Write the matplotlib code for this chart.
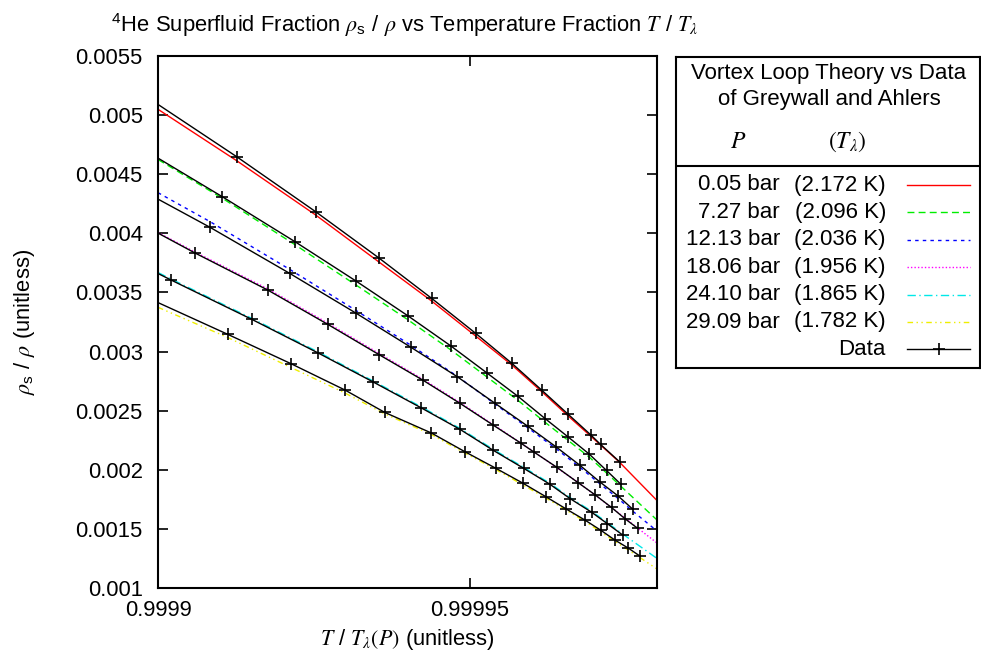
import matplotlib
matplotlib.use("Agg")
import matplotlib.pyplot as plt
from matplotlib.lines import Line2D

plt.rcParams['font.family'] = ['Liberation Sans', 'DejaVu Sans']
plt.rcParams['mathtext.fontset'] = 'stix'
FS = 15.8
plt.rcParams['font.size'] = FS

# ---------------- data ----------------
pressures = ["0.05 bar", "7.27 bar", "12.13 bar", "18.06 bar", "24.10 bar", "29.09 bar"]
tlambdas = ["(2.172 K)", "(2.096 K)", "(2.036 K)", "(1.956 K)", "(1.865 K)", "(1.782 K)"]
theory_colors = ["#ff0000", "#00ee00", "#0000ff", "#ff00ff", "#00e8e8", "#eeee00"]

# Greywall & Ahlers data (T/Tlambda, rho_s/rho)
d1_t = [0.99989, 0.99991261, 0.99992527, 0.99993542, 0.99994386, 0.99995092, 0.99995673,
        0.99996149, 0.99996576, 0.99996935, 0.99997096, 0.99997404]
d1_r = [0.005441, 0.0046484, 0.0041831, 0.0037915, 0.0034506, 0.0031545, 0.0029007,
        0.0026749, 0.0024693, 0.0022968, 0.0022139, 0.0020658]
d2_t = [0.99989, 0.99991030, 0.99992196, 0.99993178, 0.99994011, 0.99994696, 0.99995268,
        0.99995774, 0.99996210, 0.99996576, 0.99996912, 0.99997191, 0.99997425]
d2_r = [0.0049529, 0.0043100, 0.0039294, 0.0035952, 0.0033008, 0.0030471, 0.0028212,
        0.0026199, 0.0024313, 0.0022773, 0.0021335, 0.0019939, 0.0018755]
d3_t = [0.99989, 0.99990833, 0.99992109, 0.99993170, 0.99994055, 0.99994797, 0.99995401,
        0.99995934, 0.99996378, 0.99996758, 0.99997079, 0.99997377, 0.99997608]
d3_r = [0.0045756, 0.0040512, 0.0036620, 0.0033262, 0.0030361, 0.0027874, 0.0025632,
        0.0023661, 0.0021953, 0.0020405, 0.0018992, 0.0017782, 0.0016683]
d4_t = [0.99989, 0.99990593, 0.99991758, 0.99992720, 0.99993545, 0.99994242, 0.99994840,
        0.99995366, 0.99995814, 0.99996026, 0.99996394, 0.99996736, 0.99997011, 0.99997271,
        0.99997492, 0.99997689]
d4_r = [0.0042855, 0.0038338, 0.0035208, 0.0032306, 0.0029735, 0.0027595, 0.0025624,
        0.0023805, 0.0022266, 0.0021504, 0.0020210, 0.0018907, 0.0017867, 0.0016810,
        0.0015837, 0.0015050]
d5_t = [0.99989, 0.99990208, 0.99991502, 0.99992559, 0.99993450, 0.99994215, 0.99994840,
        0.99995374, 0.99995862, 0.99996277, 0.99996611, 0.99996951, 0.99997204, 0.99997449]
d5_r = [0.0039251, 0.0036054, 0.0032729, 0.0029904, 0.0027426, 0.0025252, 0.0023424,
        0.0021648, 0.0020125, 0.0018797, 0.0017545, 0.0016412, 0.0015439, 0.0014483]
d6_t = [0.99989, 0.99991117, 0.99992132, 0.99992997, 0.99993638, 0.99994383, 0.99994920,
        0.99995417, 0.99995845, 0.99996218, 0.99996539, 0.99996843, 0.99997100, 0.99997324,
        0.99997537, 0.99997725]
d6_r = [0.0036544, 0.0031460, 0.0028974, 0.0026749, 0.0024846, 0.0023111, 0.0021530,
        0.0020125, 0.0018882, 0.0017723, 0.0016700, 0.0015752, 0.0014881, 0.0014060,
        0.0013384, 0.0012707]

# Vortex loop theory curves
th1_t = [0.9999, 0.99991261, 0.99992527, 0.99993542, 0.99994386, 0.99995092, 0.99995673,
         0.99996149, 0.99996576, 0.99996935, 0.99997404, 0.99998]
th1_r = [0.0050493, 0.0046145, 0.0041552, 0.0037576, 0.0034277, 0.0031317, 0.0028864,
         0.0026622, 0.0024549, 0.0022858, 0.0020616, 0.00174]
th2_t = [0.9999, 0.99991030, 0.99992196, 0.99993178, 0.99994011, 0.99994696, 0.99995268,
         0.99995774, 0.99996210, 0.99996576, 0.99996912, 0.99997191, 0.99997425, 0.99998]
th2_r = [0.0046247, 0.0042973, 0.0039040, 0.0035614, 0.0032670, 0.0030132, 0.0027874,
         0.0025861, 0.0024000, 0.0022477, 0.0021081, 0.0019728, 0.0018586, 0.0015752]
th3_t = [0.9999, 0.99990833, 0.99992109, 0.99993170, 0.99994055, 0.99994797, 0.99995401,
         0.99995934, 0.99996378, 0.99996758, 0.99997079, 0.99997377, 0.99997608, 0.99998]
th3_r = [0.0043438, 0.0040994, 0.0036959, 0.0033491, 0.0030530, 0.0027916, 0.0025565,
         0.0023534, 0.0021800, 0.0020235, 0.0018840, 0.0017571, 0.0016513, 0.0014822]
th4_t = [0.9999, 0.99990593, 0.99991758, 0.99992720, 0.99993545, 0.99994242, 0.99994840,
         0.99995366, 0.99996026, 0.99996736, 0.99997271, 0.99997689, 0.99998]
th4_r = [0.0040072, 0.0038423, 0.0035309, 0.0032416, 0.0029836, 0.0027679, 0.0025691,
         0.0023856, 0.0021521, 0.0018924, 0.0016810, 0.0015075, 0.0013807]
th5_t = [0.9999, 0.99990208, 0.99991502, 0.99992559, 0.99993450, 0.99994215, 0.99994840,
         0.99995374, 0.99995862, 0.99996277, 0.99996611, 0.99996951, 0.99997204, 0.99997449,
         0.99998]
th5_r = [0.0036688, 0.0036138, 0.0032814, 0.0029989, 0.0027510, 0.0025336, 0.0023509,
         0.0021733, 0.0020210, 0.0018882, 0.0017630, 0.0016497, 0.0015524, 0.0014568,
         0.00125]
th6_t = [0.9999, 0.99991117, 0.99992132, 0.99992997, 0.99993638, 0.99994383, 0.99994920,
         0.99995417, 0.99996218, 0.99996843, 0.99997324, 0.99997725, 0.99998]
th6_r = [0.0033744, 0.0031190, 0.0028652, 0.0026495, 0.0024719, 0.0022985, 0.0021420,
         0.0020024, 0.0017613, 0.0015642, 0.0013950, 0.0012580, 0.0011607]

x_ticks = [0.9999, 0.99995]
x_tick_labels = ["0.9999", "0.99995"]
y_ticks = [0.001, 0.0015, 0.002, 0.0025, 0.003, 0.0035, 0.004, 0.0045, 0.005, 0.0055]
y_tick_labels = ["0.001", "0.0015", "0.002", "0.0025", "0.003", "0.0035", "0.004",
                 "0.0045", "0.005", "0.0055"]

data_sets = [(d1_t, d1_r), (d2_t, d2_r), (d3_t, d3_r), (d4_t, d4_r), (d5_t, d5_r), (d6_t, d6_r)]
theory_sets = [(th1_t, th1_r), (th2_t, th2_r), (th3_t, th3_r), (th4_t, th4_r),
               (th5_t, th5_r), (th6_t, th6_r)]
dash_styles = ['-', (0, (5, 3)), (0, (2.5, 3)), (0, (1, 1.5)), (0, (6, 2.5, 1, 2.5)),
               (0, (4, 2.5, 1, 2.5, 1, 2.5))]

# ---------------- figure ----------------
W, H = 981, 662
fig = plt.figure(figsize=(W / 100, H / 100), dpi=100)
ax = fig.add_axes([158 / W, 1 - 588 / H, (657 - 158) / W, (588 - 56) / H])

for (t, r), c, ls in zip(theory_sets, theory_colors, dash_styles):
    ax.plot(t, r, color=c, lw=1.0, ls=ls, zorder=2)
for t, r in data_sets:
    ax.plot(t, r, color='black', lw=1.0, marker='+', ms=9, mew=1.2, zorder=3)

ax.set_xlim(0.9999, 0.99998)
ax.set_ylim(0.001, 0.0055)
ax.set_xticks(x_ticks)
ax.set_xticklabels(x_tick_labels)
ax.set_yticks(y_ticks)
ax.set_yticklabels(y_tick_labels)
ax.tick_params(direction='in', length=7, width=1.2, top=True, right=True, labelsize=FS)
ax.tick_params(axis='y', pad=11)
ax.tick_params(axis='x', pad=9)
for s in ax.spines.values():
    s.set_linewidth(1.5)

fig.text(405 / W, 1 - 25 / H,
         r"$^\mathregular{4}$He Superfluid Fraction $\rho_\mathregular{s}$ / $\rho$ vs Temperature Fraction $T$ / $T_\lambda$",
         ha='center', va='center', fontsize=FS)
ax.set_xlabel(r"$T$ / $T_\lambda(P)$ (unitless)", fontsize=FS)
ax.xaxis.set_label_coords(0.5, -0.073)
ax.set_ylabel(r"$\rho_\mathregular{s}$ / $\rho$ (unitless)", fontsize=FS)
ax.yaxis.set_label_coords(-0.243, 0.5)

# ---------------- legend box ----------------
lx0, ly0, lx1, ly1 = 676, 57, 980, 368
lax = fig.add_axes([lx0 / W, 1 - ly1 / H, (lx1 - lx0) / W, (ly1 - ly0) / H])
lax.set_xlim(0, lx1 - lx0)
lax.set_ylim(ly1 - ly0, 0)
lax.set_xticks([])
lax.set_yticks([])
for s in lax.spines.values():
    s.set_linewidth(1.5)

LFS = 16.0
lax.text(153, 17, "Vortex Loop Theory vs Data", ha='center', va='center', fontsize=LFS)
lax.text(153, 42, "of Greywall and Ahlers", ha='center', va='center', fontsize=LFS)
lax.text(62, 85, r"$P$", ha='center', va='center', fontsize=LFS + 1)
lax.text(171, 85, r"$(T_\lambda)$", ha='center', va='center', fontsize=LFS + 1)
lax.plot([0, lx1 - lx0], [109, 109], color='black', lw=1.5)

row_y0, row_dy = 128, 27.4
for i, (p, tl, c, ls) in enumerate(zip(pressures, tlambdas, theory_colors, dash_styles)):
    yy = row_y0 + i * row_dy
    lax.text(104, yy, p, ha='right', va='center', fontsize=LFS)
    lax.text(210, yy, tl, ha='right', va='center', fontsize=LFS)
    lax.add_line(Line2D([231, 294], [yy, yy], color=c, lw=1.0, ls=ls))
yy = row_y0 + 6 * row_dy
lax.text(210, yy, "Data", ha='right', va='center', fontsize=LFS)
lax.add_line(Line2D([231, 294], [yy, yy], color='black', lw=1.0))
lax.plot([262.5], [yy], marker='+', color='black', ms=9, mew=1.2)

fig.savefig("out.png", dpi=100)
